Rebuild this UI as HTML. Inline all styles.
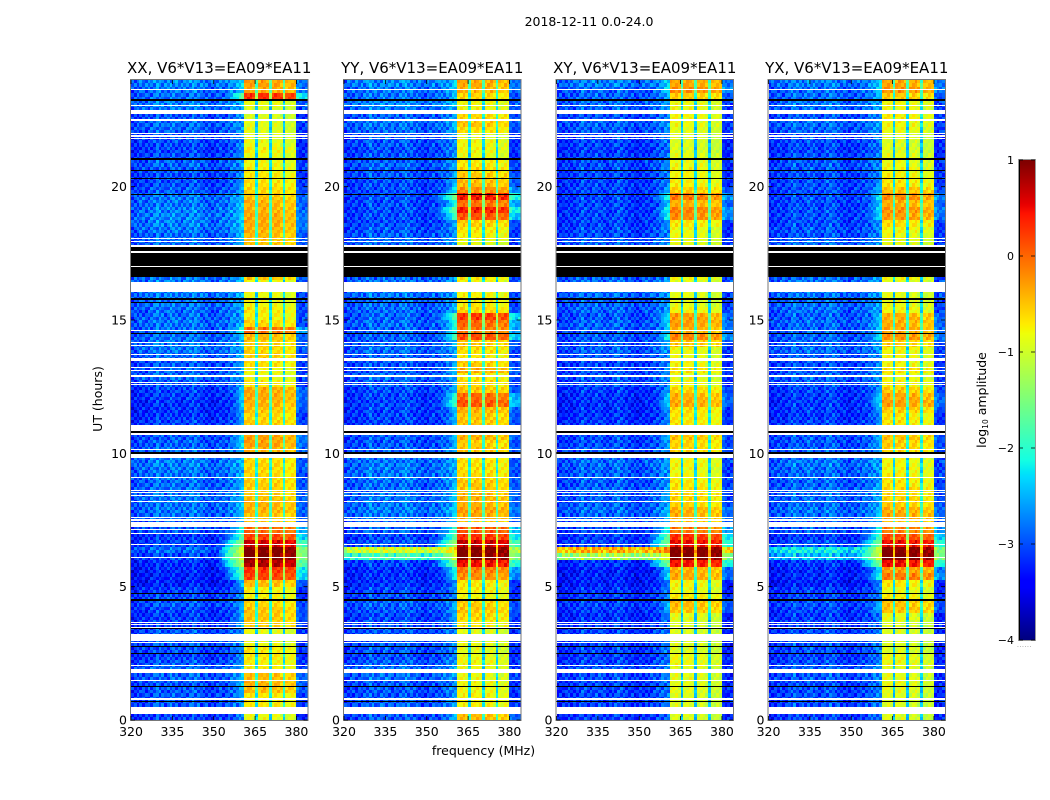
<!DOCTYPE html>
<html lang="en">
<head>
<meta charset="utf-8">
<title>2018-12-11 0.0-24.0</title>
<style>
html,body{margin:0;padding:0;background:#fff;}
svg{display:block;font-family:"DejaVu Sans","Liberation Sans",sans-serif;fill:#000;}
</style>
</head>
<body>
<svg id="figure" xmlns="http://www.w3.org/2000/svg" width="1050" height="800" viewBox="0 0 1050 800">
  <text x="589" y="26" font-size="12.5" text-anchor="middle">2018-12-11 0.0-24.0</text>
  <text x="483.5" y="755" font-size="12.5" text-anchor="middle">frequency (MHz)</text>
  <text transform="translate(102,399) rotate(-90)" font-size="12.5" text-anchor="middle">UT (hours)</text>
  <text transform="translate(986,400) rotate(-90)" font-size="12.5" text-anchor="middle">log<tspan font-size="7.5" dy="2">10</tspan><tspan dy="-2"> amplitude</tspan></text>
  <text x="1017" y="647" font-size="6" letter-spacing="0.6" fill="#777">......</text>
  <g id="panels"></g>
  <g id="colorbar"></g>
</svg>
<script>
var panelTitles = ["XX, V6*V13=EA09*EA11", "YY, V6*V13=EA09*EA11", "XY, V6*V13=EA09*EA11", "YX, V6*V13=EA09*EA11"];
var freqTicks = [320, 335, 350, 365, 380];
var timeTicks = [0, 5, 10, 15, 20];
var colorTicks = [1, 0, -1, -2, -3, -4];

/* In-band log10 amplitude, one value per quarter hour, 0 h upward (4 per hour) */
var bandXX = [
 -0.85,-0.85,-0.7,-0.7,  -0.45,-0.4,-0.45,-0.7,  -0.75,-0.7,-0.7,-0.85,  -0.9,-0.85,-0.55,-0.5,
 -0.5,-0.6,-0.75,-0.75,  -0.45,0.2,0.3,0.8,  1.05,1.05,0.65,0.2,  0.0,-0.5,-0.5,-0.4,
 -0.4,-0.5,-0.55,-0.55,  -0.6,-0.6,-0.6,-0.65,  -0.4,-0.3,-0.3,-0.5,  -0.55,-0.6,-0.5,-0.4,
 -0.35,-0.35,-0.7,-0.85,  -0.8,-0.65,-0.55,-0.6,  -0.55,-0.45,-0.05,-0.6,  -0.75,-0.7,-0.8,-0.85,
 -0.8,-0.8,-0.5,-0.6,  -0.8,-0.8,-0.8,-0.5,  -0.45,-0.4,-0.35,-0.35,  -0.4,-0.4,-0.5,-0.6,
 -0.65,-0.7,-0.75,-0.8,  -0.85,-0.75,-0.85,-0.9,  -0.9,-0.9,-0.95,-0.95,  -0.85,0.3,-0.35,-0.3
];
var bandYY = [
 -0.45,-0.4,-0.75,-0.75,  -0.8,-0.8,-0.85,-0.85,  -0.8,-0.85,-0.9,-0.85,  -0.9,-0.9,-0.7,-0.6,
 -0.5,-0.55,-0.8,-0.75,  -0.7,-0.2,-0.1,0.5,  1.05,1.05,0.7,0.3,  0.1,-0.5,-0.35,-0.3,
 -0.4,-0.4,-0.5,-0.5,  -0.6,-0.65,-0.65,-0.7,  -0.5,-0.55,-0.4,-0.6,  -0.5,-0.5,-0.4,0.1,
 0.0,-0.5,-0.6,-0.7,  -0.35,-0.55,-0.7,-0.65,  -0.5,0.15,-0.1,0.0,  0.25,-0.6,-0.7,-0.75,
 -0.8,-0.8,-0.7,-0.6,  -0.8,-0.8,-0.8,-0.9,  -0.75,-0.7,-0.55,0.1,  0.4,-0.05,0.45,-0.2,
 -0.45,-0.5,-0.6,-0.7,  -0.85,-0.8,-0.8,-0.9,  -0.65,-0.5,-0.6,-0.8,  -0.8,-0.6,-0.4,-0.35
];
var bandXY = [
 -0.95,-0.95,-0.95,-0.95,  -0.9,-0.9,-0.9,-0.95,  -0.85,-0.85,-0.95,-0.95,  -0.95,-0.95,-0.95,-0.9,
 -0.5,-0.45,-0.7,-0.85,  -0.8,-0.35,-0.4,0.45,  1.05,1.05,0.5,0.3,  -0.1,-0.5,-0.4,-0.4,
 -0.6,-0.6,-0.65,-0.7,  -0.8,-0.85,-0.8,-0.85,  -0.6,-0.6,-0.5,-0.7,  -0.7,-0.7,-0.65,-0.35,
 -0.4,-0.6,-0.8,-0.9,  -0.65,-0.8,-0.85,-0.85,  -0.5,-0.15,-0.4,-0.3,  -0.3,-0.8,-0.9,-0.9,
 -0.9,-0.9,-0.8,-0.7,  -0.9,-0.9,-0.9,-0.9,  -0.85,-0.85,-0.7,-0.2,  -0.15,-0.4,-0.1,-0.55,
 -0.75,-0.8,-0.8,-0.85,  -0.9,-0.95,-0.95,-0.95,  -0.9,-0.85,-0.8,-0.85,  -0.85,-0.55,-0.2,-0.35
];
var bandYX = [
 -0.95,-0.95,-0.95,-0.95,  -0.9,-0.85,-0.9,-0.95,  -0.85,-0.85,-0.95,-0.95,  -0.95,-0.95,-0.95,-0.9,
 -0.5,-0.5,-0.75,-0.85,  -0.7,-0.1,-0.3,0.5,  1.05,1.0,0.5,0.15,  -0.15,-0.5,-0.35,-0.4,
 -0.55,-0.6,-0.6,-0.7,  -0.75,-0.8,-0.8,-0.85,  -0.6,-0.55,-0.5,-0.65,  -0.7,-0.7,-0.55,-0.3,
 -0.35,-0.55,-0.75,-0.85,  -0.65,-0.8,-0.8,-0.8,  -0.55,-0.25,-0.35,-0.4,  -0.4,-0.8,-0.85,-0.9,
 -0.9,-0.9,-0.8,-0.75,  -0.9,-0.9,-0.9,-0.9,  -0.85,-0.8,-0.65,-0.3,  -0.25,-0.4,-0.2,-0.5,
 -0.7,-0.75,-0.8,-0.85,  -0.9,-0.95,-0.95,-0.95,  -0.85,-0.8,-0.75,-0.85,  -0.8,-0.55,-0.25,-0.35
];

/* Off-band background log10 amplitude, one value per quarter hour */
var bgXX = [
 -3.1,-3.0,-3.0,-3.0,  -3.0,-3.0,-2.95,-2.9,  -3.0,-3.1,-3.05,-3.0,  -3.0,-3.0,-3.1,-3.15,
 -3.1,-3.0,-3.05,-3.15,  -3.3,-3.3,-3.25,-3.2,  -3.1,-2.9,-3.1,-3.15,  -3.0,-3.0,-2.9,-2.85,
 -2.85,-2.85,-2.9,-2.9,  -2.85,-2.85,-2.8,-2.85,  -2.9,-2.95,-3.0,-2.95,  -3.1,-3.15,-3.2,-3.2,
 -3.15,-3.1,-3.0,-2.9,  -2.95,-3.0,-2.9,-2.85,  -2.85,-2.9,-2.9,-2.85,  -2.9,-2.9,-2.85,-2.8,
 -2.8,-2.8,-2.85,-2.85,  -2.9,-2.9,-2.9,-2.9,  -2.9,-2.85,-2.8,-2.8,  -2.8,-2.85,-2.85,-3.0,
 -3.05,-3.05,-3.0,-2.95,  -3.05,-3.1,-3.05,-3.05,  -2.95,-2.9,-3.0,-2.85,  -2.8,-2.9,-2.85,-2.75
];
var bgYY = [
 -3.0,-2.95,-2.95,-3.0,  -3.0,-3.0,-2.9,-2.85,  -2.95,-3.05,-3.0,-3.0,  -3.0,-3.0,-3.05,-3.1,
 -3.0,-2.95,-3.05,-3.1,  -3.2,-3.2,-3.2,-3.1,  -1.9,-1.0,-3.0,-3.1,  -2.95,-2.95,-2.85,-2.8,
 -2.85,-2.85,-2.9,-2.9,  -2.85,-2.85,-2.85,-2.85,  -2.95,-3.0,-3.0,-3.0,  -3.1,-3.1,-3.1,-3.1,
 -3.1,-3.05,-3.0,-2.9,  -3.0,-3.0,-2.95,-2.9,  -2.95,-2.95,-2.95,-2.9,  -2.95,-2.9,-2.9,-2.85,
 -2.85,-2.85,-2.9,-2.9,  -2.9,-2.9,-2.9,-2.9,  -2.95,-3.0,-3.05,-3.05,  -3.05,-3.05,-3.05,-3.05,
 -3.05,-3.0,-3.0,-2.95,  -3.0,-3.05,-3.0,-3.0,  -2.9,-2.85,-2.95,-2.85,  -2.75,-2.85,-2.85,-2.75
];
var bgXY = [
 -3.15,-3.1,-3.1,-3.1,  -3.1,-3.1,-3.05,-3.0,  -3.1,-3.15,-3.1,-3.1,  -3.1,-3.1,-3.15,-3.2,
 -3.15,-3.1,-3.15,-3.2,  -3.3,-3.3,-3.3,-3.2,  -1.3,-0.45,-3.1,-3.15,  -3.05,-3.0,-2.95,-2.9,
 -2.95,-2.95,-2.95,-3.0,  -2.95,-2.95,-2.9,-2.95,  -3.0,-3.05,-3.05,-3.05,  -3.15,-3.2,-3.2,-3.2,
 -3.2,-3.15,-3.05,-3.0,  -3.05,-3.1,-3.0,-2.95,  -3.0,-3.0,-3.0,-2.95,  -3.0,-2.95,-2.95,-2.9,
 -2.9,-2.9,-2.95,-2.95,  -2.95,-2.95,-2.95,-2.95,  -3.05,-3.05,-3.1,-3.1,  -3.1,-3.1,-3.1,-3.1,
 -3.1,-3.1,-3.05,-3.05,  -3.1,-3.15,-3.1,-3.1,  -3.0,-2.95,-3.05,-2.95,  -2.9,-2.95,-2.95,-2.8
];
var bgYX = [
 -3.1,-3.05,-3.05,-3.05,  -3.05,-3.05,-3.0,-2.95,  -3.05,-3.1,-3.05,-3.05,  -3.05,-3.05,-3.1,-3.15,
 -3.1,-3.05,-3.1,-3.15,  -3.3,-3.25,-3.25,-3.15,  -2.5,-2.2,-3.05,-3.15,  -3.0,-3.0,-2.9,-2.85,
 -2.9,-2.9,-2.9,-2.95,  -2.9,-2.9,-2.85,-2.9,  -2.95,-3.0,-3.0,-3.0,  -3.1,-3.15,-3.15,-3.15,
 -3.15,-3.1,-3.0,-2.95,  -3.0,-3.05,-2.95,-2.9,  -2.95,-2.95,-2.95,-2.9,  -2.95,-2.9,-2.9,-2.85,
 -2.85,-2.85,-2.9,-2.9,  -2.9,-2.9,-2.9,-2.9,  -3.0,-3.0,-3.05,-3.05,  -3.05,-3.05,-3.05,-3.05,
 -3.05,-3.05,-3.0,-3.0,  -3.05,-3.1,-3.05,-3.05,  -2.95,-2.9,-3.0,-2.9,  -2.85,-2.9,-2.9,-2.8
];

/* Per-channel background offset, 320..383 MHz */
var channelBackground = [
 -0.2,-0.15,-0.1,-0.05,-0.05,-0.1,-0.05,0,0.05,0.15,0.05,0,0,0.05,0.1,0.1,
 0.05,0,-0.05,0,0.05,0.1,0.15,0.1,0.05,0,-0.05,-0.05,-0.1,-0.15,-0.1,-0.05,
 0,-0.05,0,0.05,0.1,0.15,0.2,0.25,0.25,0,0,0,0,0,0,0,
 0,0,0,0,0,0,0,0,0,0,0,0,-0.3,-0.3,-0.15,-0.15
];
/* Per-channel gain relative to the in-band level, 320..383 MHz */
var channelGain = [
 -9,-9,-9,-9,-9,-9,-9,-9,-9,-9,-9,-9,-9,-9,-9,-9,
 -9,-9,-9,-9,-9,-9,-9,-9,-9,-9,-9,-9,-9,-9,-5,-4.5,
 -3.9,-3.5,-3.2,-3,-2.8,-2.6,-2.4,-2.1,-2,0,0.05,0.05,-0.05,-1.5,-0.05,0.05,
 0.05,-0.05,-1.5,-0.05,0,0,-0.1,-1.5,-0.15,-0.1,-0.1,-0.15,-2.3,-2.5,-2.6,-2.5
];
/* Receiver noise texture tile and the diagonal ripple seen in-band */
var grainTile = [
 [.3,-.2,.1,-.35,.2,-.1,.35,-.3,.05,.25,-.25,.15,-.05],
 [-.1,.25,-.3,.15,-.2,.3,-.15,.1,-.35,.2,.05,-.3,.3],
 [.2,-.35,.05,.3,-.1,-.25,.2,-.05,.3,-.2,.15,.1,-.25],
 [-.3,.1,.25,-.15,.35,.05,-.3,.25,-.1,-.35,.3,-.05,.15],
 [.05,.3,-.25,.2,-.3,.15,.1,-.2,.25,.1,-.15,.35,-.35],
 [.25,-.05,.15,-.3,.1,-.35,.3,.05,-.25,.3,-.1,-.2,.2],
 [-.2,.35,-.1,.05,.25,-.15,-.25,.35,.1,-.3,.2,.05,-.1],
 [.15,-.25,.3,-.2,-.05,.3,.1,-.35,.2,.15,-.3,.25,.05],
 [-.35,.1,-.15,.25,.15,-.3,.05,.2,-.2,.05,.35,-.25,.1]
];
var ripple = [0.13, 0, -0.13];

/* Flagged time ranges in hours [start, end] */
var blackFlags = [
 [0.68,0.73],[1.22,1.28],[2.46,2.51],[2.74,2.79],[3.41,3.47],[4.46,4.52],[4.73,4.76],
 [9.99,10.05],[10.76,10.82],[14.48,14.53],[15.64,15.69],[15.75,15.81],[16.61,17.74],
 [19.69,19.74],[20.27,20.33],[20.57,20.62],[21.0,21.06],[23.21,23.27]
];
var whiteFlags = [
 [0.24,0.49],[0.75,0.79],[0.81,0.84],[1.46,1.5],[1.78,1.93],[2.03,2.06],[2.92,2.94],[2.98,3.22],
 [3.45,3.49],[3.56,3.6],[3.64,3.67],[6.08,6.11],[6.56,6.6],[6.98,7.01],[7.13,7.16],[7.22,7.41],
 [7.48,7.52],[7.58,7.61],[8.18,8.21],[8.4,8.44],[8.51,8.55],[8.61,8.64],[9.08,9.11],[9.84,9.97],
 [10.13,10.16],[10.69,10.76],[10.84,11.06],[12.56,12.6],[12.64,12.67],[12.88,12.92],[13.07,13.11],
 [13.2,13.24],[13.46,13.59],[13.71,13.74],[14.02,14.06],[14.14,14.17],[14.59,14.62],[16.05,16.42],
 [17.0,17.04],[17.53,17.57],[17.74,17.83],[17.92,17.96],[18.05,18.09],[21.77,21.81],[21.88,21.92],
 [21.98,22.02],[22.48,22.52],[22.72,22.87],[23.04,23.06],[23.61,23.65]
];
var bandSeries = [bandXX, bandYY, bandXY, bandYX];
var backgroundSeries = [bgXX, bgYY, bgXY, bgYX];

var SVGNS = "http://www.w3.org/2000/svg";
var panelLefts = [131, 344, 556.5, 768.5];
var panelWidth = 176.5;
var plotTop = 80, plotBottom = 720;
var freqMin = 320, freqMax = 384, timeMax = 24;
var colorMin = -4, colorMax = 1;
var channelCount = 64, rowsPerBin = 2;

function xScale(panel, f) { return panelLefts[panel] + (f - freqMin) / (freqMax - freqMin) * panelWidth; }
function yScale(h) { return plotBottom - h / timeMax * (plotBottom - plotTop); }
function colorY(v) { return 640 - (v - colorMin) / (colorMax - colorMin) * 480; }

function interp(t, xs, ys) {
  for (var i = 1; i < xs.length; i++) {
    if (t <= xs[i]) return ys[i - 1] + (t - xs[i - 1]) / (xs[i] - xs[i - 1]) * (ys[i] - ys[i - 1]);
  }
  return ys[ys.length - 1];
}
function jet(t) {
  t = Math.max(0, Math.min(1, t));
  var r = interp(t, [0, .35, .66, .89, 1], [0, 0, 1, 1, .5]);
  var g = interp(t, [0, .125, .375, .64, .91, 1], [0, 0, 1, 1, 0, 0]);
  var b = interp(t, [0, .11, .34, .65, 1], [.5, 1, 1, 0, 0]);
  return "rgb(" + Math.round(r * 255) + "," + Math.round(g * 255) + "," + Math.round(b * 255) + ")";
}
function colorLevel(v) { return Math.round(Math.max(0, Math.min(1, (v - colorMin) / (colorMax - colorMin))) * 127); }

function make(tag, attrs, parent) {
  var el = document.createElementNS(SVGNS, tag);
  for (var k in attrs) el.setAttribute(k, attrs[k]);
  parent.appendChild(el);
  return el;
}

function cellValue(p, binIndex, row, c) {
  var base = backgroundSeries[p][binIndex] + channelBackground[c];
  var tile = grainTile[(row + p * 3) % grainTile.length];
  var grain = tile[(c + p * 5) % tile.length];
  var bg = base + grain;
  var hatch = ripple[((c - row) % ripple.length + ripple.length) % ripple.length];
  var band = bandSeries[p][binIndex] + channelGain[c] + hatch + grain * 0.15;
  return Math.max(bg, band);
}

function flagRect(p, f, fill, parent) {
  var y0 = Math.round(yScale(f[1]));
  var y1 = Math.round(yScale(f[0]));
  return make("rect", {x: panelLefts[p], y: y0, width: panelWidth, height: Math.max(1, y1 - y0), fill: fill, "shape-rendering": "crispEdges"}, parent);
}

function drawPanel(p) {
  var root = document.getElementById("panels");
  var g = make("g", {}, root);
  
  

  var cells = make("g", {"shape-rendering": "crispEdges"}, g);
  
  
  var bins = bandSeries[p].length;
  for (var b = 0; b < bins; b++) {
    for (var s = 0; s < rowsPerBin; s++) {
      var row = b * rowsPerBin + s;
      var hourStep = timeMax / (bins * rowsPerBin);
      var y1 = Math.round(yScale(row * hourStep));
      var y0 = Math.round(yScale((row + 1) * hourStep));
      var c = 0;
      while (c < channelCount) {
        var lvl = colorLevel(cellValue(p, b, row, c));
        var e = c + 1;
        while (e < channelCount && colorLevel(cellValue(p, b, row, e)) === lvl) e++;
        var x0 = Math.round(xScale(p, freqMin + c));
        var x1 = Math.round(xScale(p, freqMin + e));
        var cell = make("rect", {x: x0, y: y0, width: x1 - x0, height: y1 - y0, fill: jet(lvl / 127)}, cells);
        
        
        c = e;
      }
    }
  }

  blackFlags.forEach(function (f) {
    var r = flagRect(p, f, "#000", g);
    
    
  });
  whiteFlags.forEach(function (f) {
    var r = flagRect(p, f, "#fff", g);
    
    
  });

  var frame = make("rect", {x: panelLefts[p] - 0.5, y: plotTop - 0.5, width: panelWidth + 1, height: plotBottom - plotTop + 1, fill: "none", stroke: "#777", "stroke-width": 1}, g);
  
  

  freqTicks.forEach(function (f) {
    var x = xScale(p, f);
    var t = make("path", {d: "M" + x + " " + plotBottom + "v-4M" + x + " " + plotTop + "v4", stroke: "#000", fill: "none", "stroke-width": 0.8}, g);
    
    
    var l = make("text", {x: x, y: 736, "font-size": 12.5, "text-anchor": "middle"}, g);
    l.textContent = String(f);
    
    
  });
  timeTicks.forEach(function (h) {
    var y = yScale(h);
    var x0 = panelLefts[p], x1 = panelLefts[p] + panelWidth;
    var t = make("path", {d: "M" + x0 + " " + y + "h4M" + x1 + " " + y + "h-4", stroke: "#000", fill: "none", "stroke-width": 0.8}, g);
    
    
    var l = make("text", {x: x0 - 4, y: y + 4.5, "font-size": 12.5, "text-anchor": "end"}, g);
    l.textContent = String(h);
    
    
  });

  var title = make("text", {x: panelLefts[p] + panelWidth / 2, y: 73, "font-size": 15, "text-anchor": "middle"}, g);
  title.textContent = panelTitles[p];
  
  
}

function drawColorbar() {
  var g = document.getElementById("colorbar");
  var left = 1019, width = 16;
  for (var i = 0; i < 240; i++) {
    var vLow = colorMin + i / 240 * (colorMax - colorMin);
    var vHigh = colorMin + (i + 1) / 240 * (colorMax - colorMin);
    var seg = make("rect", {x: left, y: colorY(vHigh), width: width, height: colorY(vLow) - colorY(vHigh) + 0.5, fill: jet(i / 239), "shape-rendering": "crispEdges"}, g);
    
    
  }
  var frame = make("rect", {x: left - 0.5, y: 159.5, width: width + 1, height: 481, fill: "none", stroke: "#999"}, g);
  
  
  var edge = make("path", {d: "M" + (left + 0.5) + " 160V640", stroke: "#000", "stroke-width": 1, fill: "none"}, g);
  
  
  colorTicks.forEach(function (v) {
    var y = colorY(v);
    var t = make("path", {d: "M" + left + " " + y + "h4M" + (left + width) + " " + y + "h-4", stroke: "#000", fill: "none", "stroke-width": 0.8}, g);
    
    
    var l = make("text", {x: 1014, y: y + 4, "font-size": 11, "text-anchor": "end"}, g);
    l.textContent = v < 0 ? "\u2212" + Math.abs(v) : String(v);
    
    
  });
}

for (var p = 0; p < panelTitles.length; p++) drawPanel(p);
drawColorbar();
</script>
</body>
</html>
